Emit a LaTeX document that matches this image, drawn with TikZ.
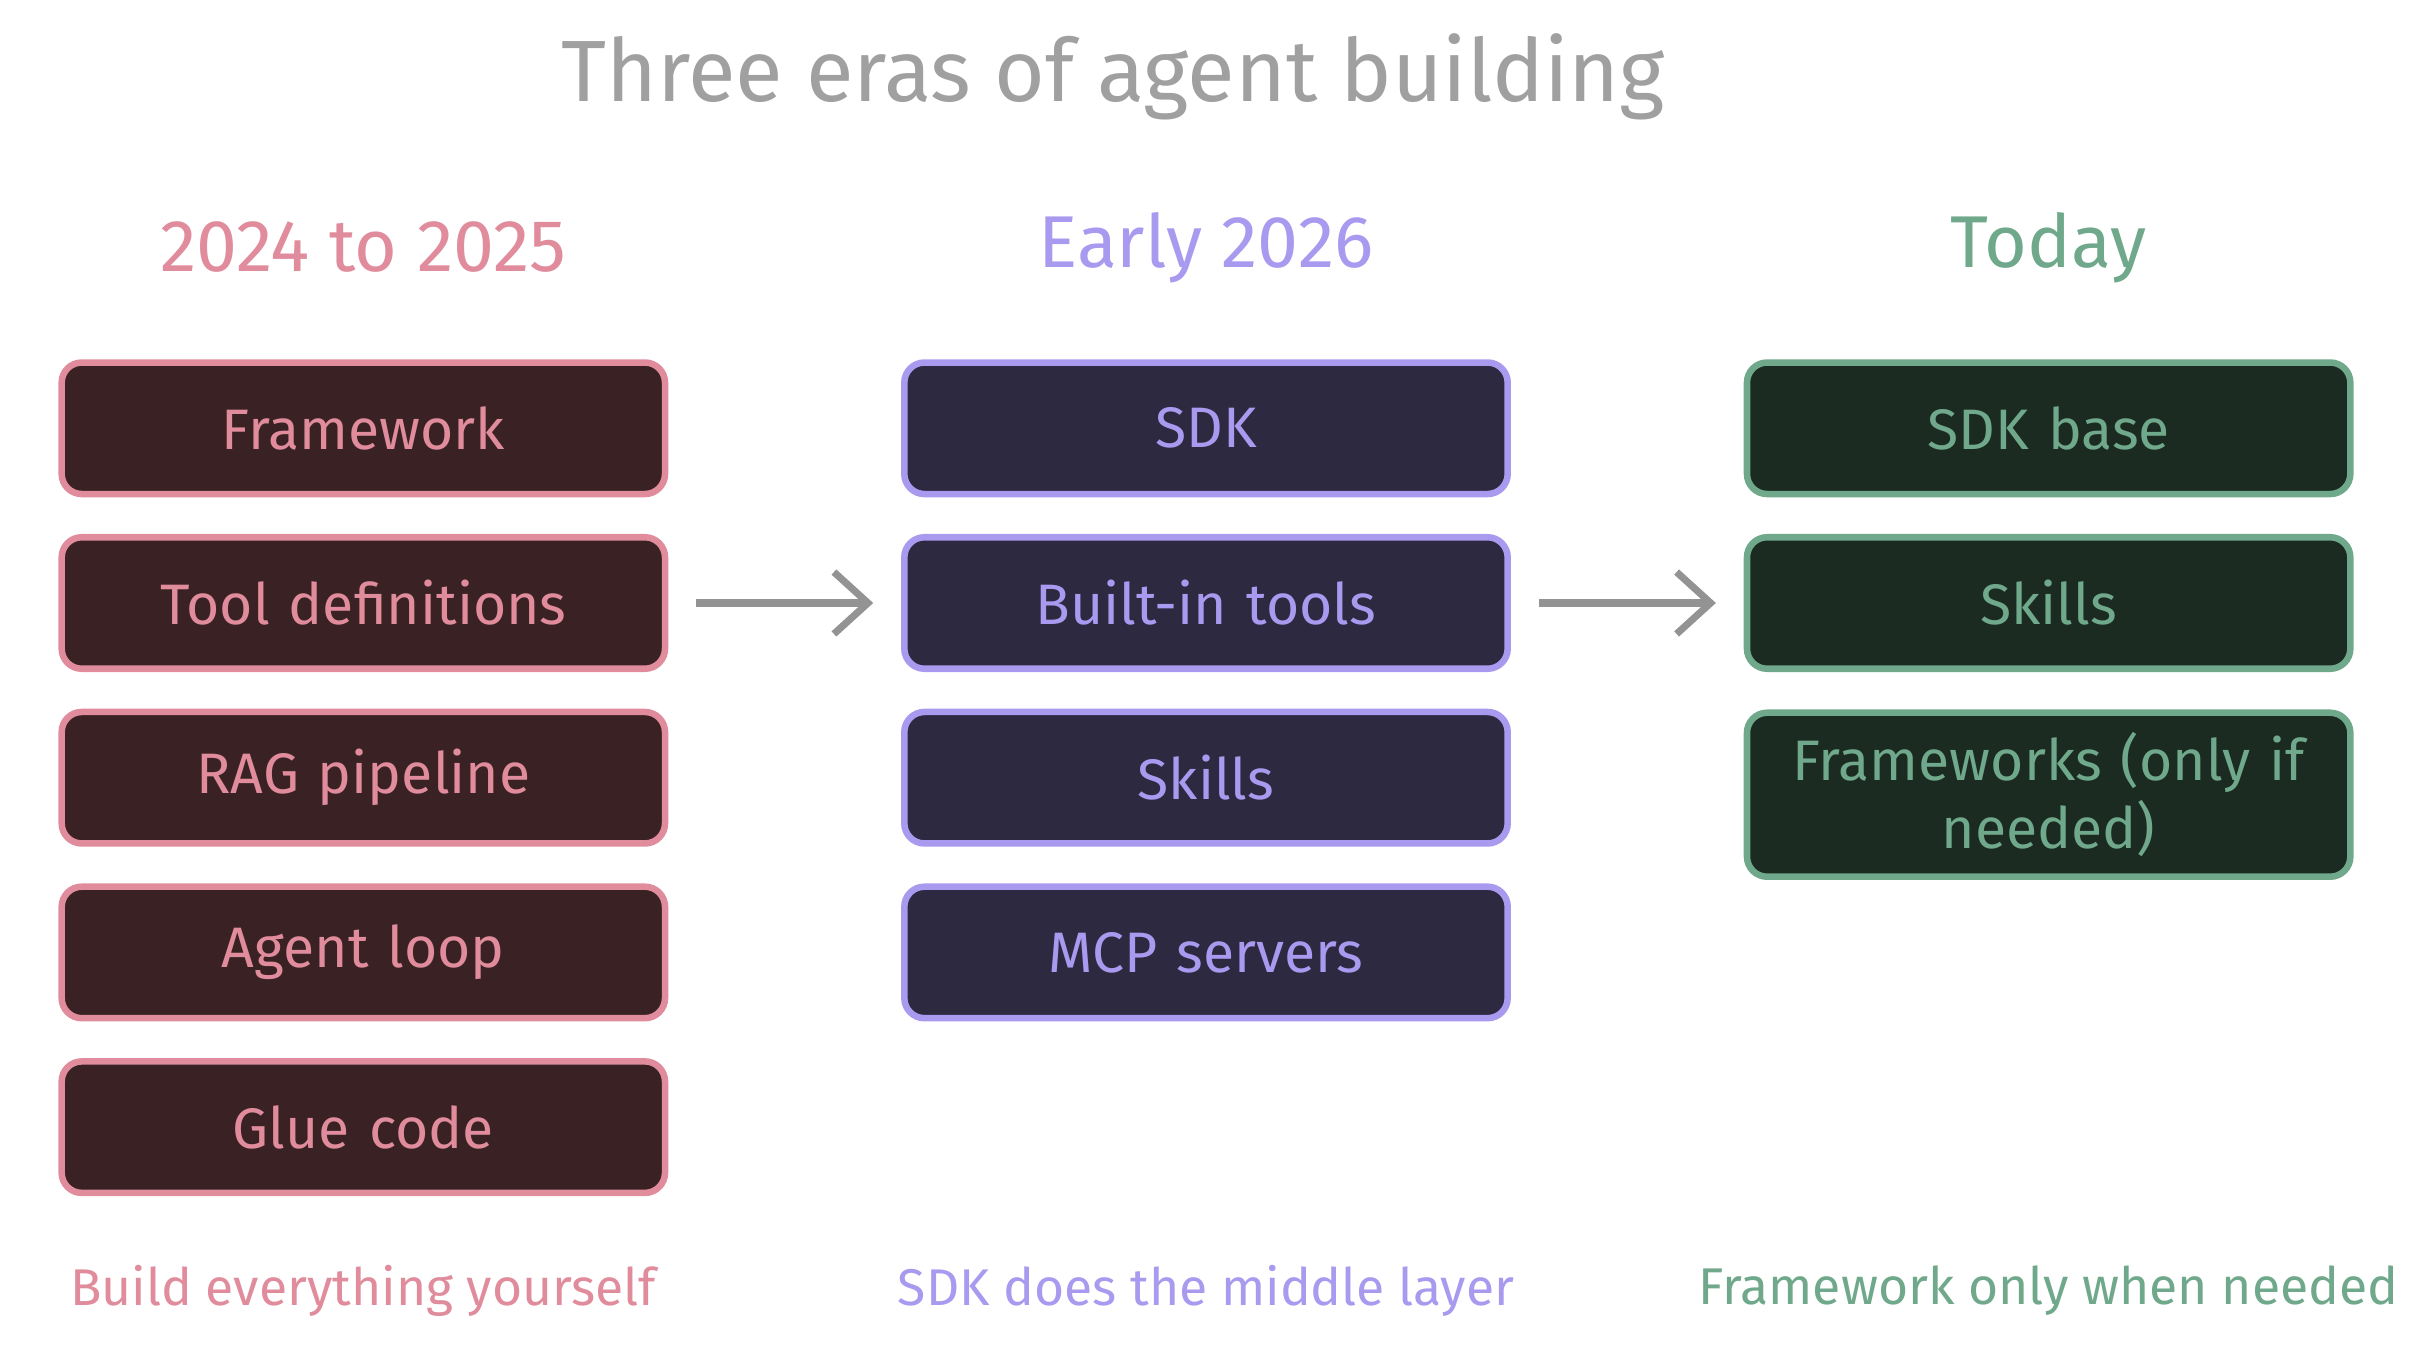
\documentclass[tikz,border=0pt]{standalone}
\usepackage{fontspec}
\setmainfont{Fira Sans}
\usetikzlibrary{arrows.meta}
\definecolor{pk}{HTML}{E08C9C}\definecolor{pkf}{HTML}{3A2224}
\definecolor{pu}{HTML}{A99AF0}\definecolor{puf}{HTML}{2D2940}
\definecolor{gr}{HTML}{6FA88A}\definecolor{grf}{HTML}{1B2B22}
\definecolor{tg}{HTML}{A0A0A0}
\begin{document}
\begin{tikzpicture}[x=0.01cm,y=-0.01cm,
 box/.style={rounded corners=0.13cm,line width=1.2pt,minimum width=3.9cm,minimum height=0.85cm,font=\fontsize{10.5}{12.5}\selectfont,align=center,text width=3.5cm},
 pbox/.style={box,draw=pk,fill=pkf,text=pk},
 ubox/.style={box,draw=pu,fill=puf,text=pu},
 gbox/.style={box,draw=gr,fill=grf,text=gr},
 head/.style={font=\fontsize{13.5}{16}\selectfont},
 foot/.style={font=\fontsize{9.5}{12}\selectfont},
 arr/.style={draw=gray!85,line width=1.3pt,-{Straight Barb[length=0.22cm,width=0.4cm]}}]
\useasboundingbox[fill=white] (0,0) rectangle (1560,873);
\node[font=\fontsize{16}{20}\selectfont,text=tg] (t) at (720,50) {Three eras of agent building};
\node[head,text=pk] (h1) at (235,160) {2024 to 2025};
\node[head,text=pu] (h2) at (780,160) {Early 2026};
\node[head,text=gr] (h3) at (1325,160) {Today};
\node[pbox] (a1) at (235,277) {Framework};
\node[pbox] (a2) at (235,390) {Tool definitions};
\node[pbox] (a3) at (235,503) {RAG pipeline};
\node[pbox] (a4) at (235,616) {Agent loop};
\node[pbox] (a5) at (235,729) {Glue code};
\node[ubox] (b1) at (780,277) {SDK};
\node[ubox] (b2) at (780,390) {Built-in tools};
\node[ubox] (b3) at (780,503) {Skills};
\node[ubox] (b4) at (780,616) {MCP servers};
\node[gbox] (c1) at (1325,277) {SDK base};
\node[gbox] (c2) at (1325,390) {Skills};
\node[gbox,minimum height=1.06cm] (c3) at (1325,514) {Frameworks (only if\\needed)};
\draw[arr] ([xshift=0.18cm]a2.east) -- ([xshift=-0.18cm]b2.west);
\draw[arr] ([xshift=0.18cm]b2.east) -- ([xshift=-0.18cm]c2.west);
\node[foot,text=pk] (f1) at (235,835) {Build everything yourself};
\node[foot,text=pu] (f2) at (780,835) {SDK does the middle layer};
\node[foot,text=gr] (f3) at (1325,835) {Framework only when needed};
\end{tikzpicture}
\end{document}
